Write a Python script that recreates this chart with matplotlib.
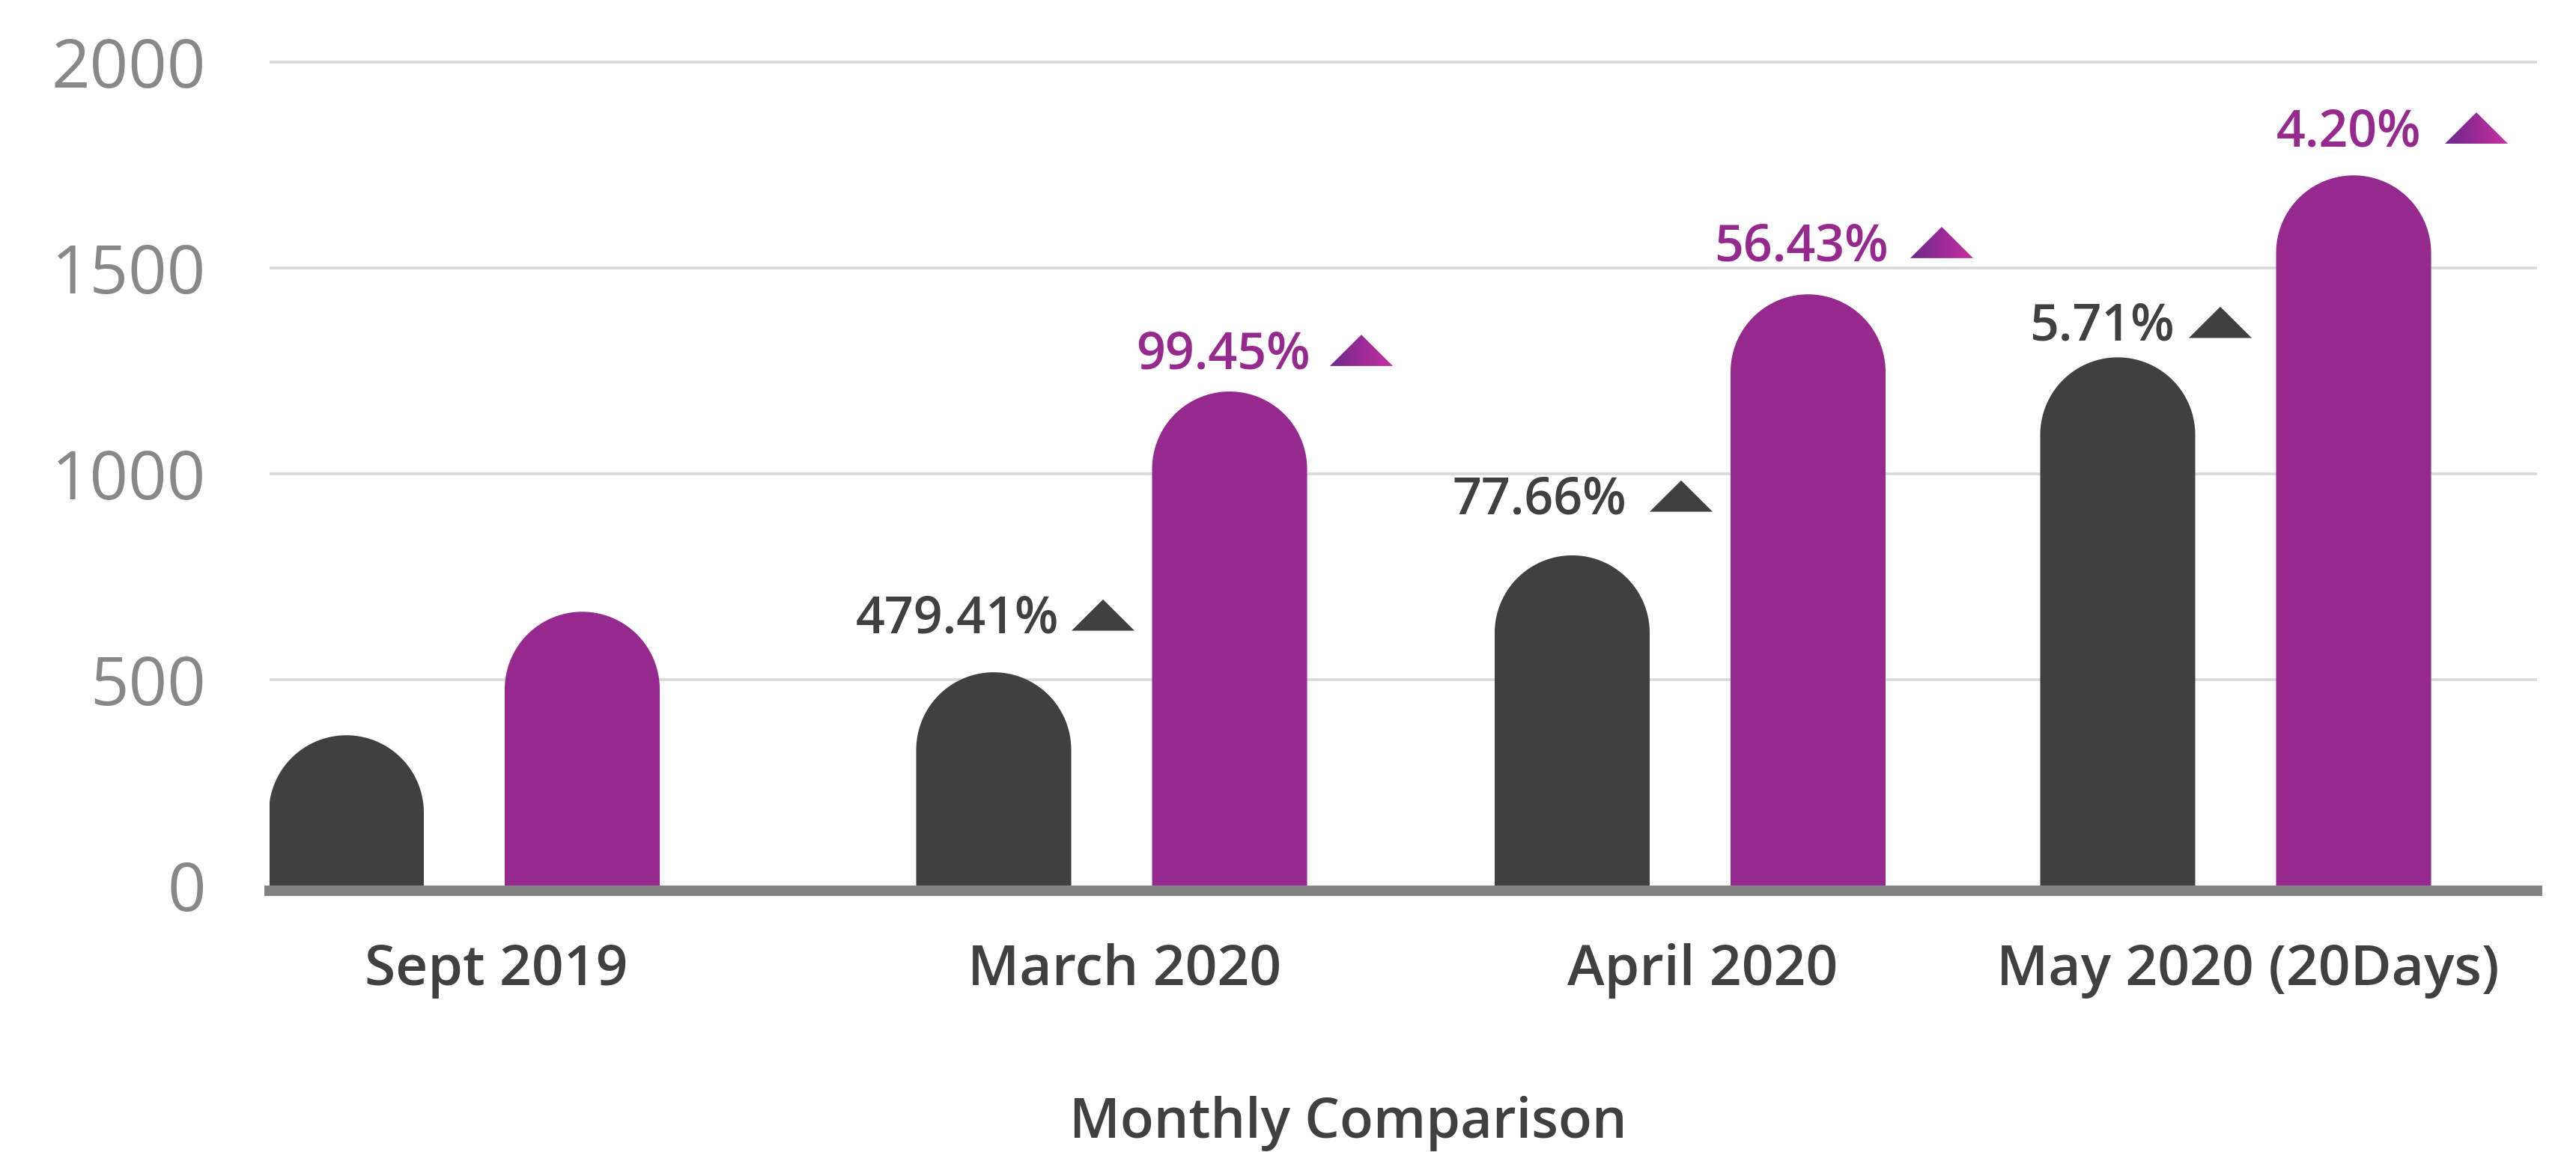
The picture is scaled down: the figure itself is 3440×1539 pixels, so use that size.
import matplotlib
matplotlib.use("Agg")
import matplotlib.pyplot as plt
import numpy as np
from matplotlib.path import Path
from matplotlib.patches import PathPatch, Polygon
from matplotlib.colors import LinearSegmentedColormap

# ---------------- data ----------------
categories = ["Sept 2019", "March 2020", "April 2020", "May 2020 (20Days)"]
dark_values = [365, 518, 802, 1283]
purple_values = [665, 1200, 1436, 1725]
dark_growth = [None, "479.41%", "77.66%", "5.71%"]
purple_growth = [None, "99.45%", "56.43%", "4.20%"]
y_ticks = [0, 500, 1000, 1500, 2000]
x_title = "Monthly Comparison"

# ---------------- layout / style ----------------
DARK = "#404040"
PURPLE = "#96298D"
GRID = "#d9d9d9"
AXIS = "#828282"
TICK = "#888888"
FONT = ["Open Sans", "DejaVu Sans"]

group_x = [6.20, 14.845, 22.57, 29.855]
bar_offset = 1.575
bar_width = 2.07
label_x = [6.63, 15.015, 22.74, 30.02]
# (text right edge x, baseline y, triangle left x)
dark_label_pos = [None, (14.14, 613, 14.31), (21.72, 902, 22.03), (29.04, 1324, 29.23)]
purple_label_pos = [None, (17.50, 1256, 17.76), (25.22, 1518, 25.51), (32.33, 1796, 32.65)]
tri_w, tri_h = 0.84, 76

fig = plt.figure(figsize=(34.4, 15.39), dpi=100)
ax = fig.add_axes([360 / 3440, 1 - 1183 / 1539, (3388 - 360) / 3440, 1183 / 1539])
ax.set_xlim(3.60, 33.88)
ax.set_ylim(0, 2151)
ax.set_autoscale_on(False)
for s in ax.spines.values():
    s.set_visible(False)

# grid
for t in y_ticks[1:]:
    ax.axhline(t, color=GRID, lw=2.6, zorder=0)

# px per data unit
p0 = ax.transData.transform((0, 0))
px_x = ax.transData.transform((1, 0))[0] - p0[0]
px_y = ax.transData.transform((0, 1))[1] - p0[1]


def rounded_bar(xc, h, color):
    rx = bar_width / 2
    ry = rx * px_x / px_y
    x0, x1 = xc - rx, xc + rx
    t = np.linspace(np.pi, 0, 60)
    yc = max(h - ry, 0)
    verts = [(x0, 0), (x0, yc)]
    verts += list(zip(xc + rx * np.cos(t), yc + ry * np.sin(t)))
    verts += [(x1, 0), (x0, 0)]
    codes = [Path.MOVETO] + [Path.LINETO] * (len(verts) - 2) + [Path.CLOSEPOLY]
    ax.add_patch(PathPatch(Path(verts, codes), facecolor=color, edgecolor="none", zorder=2))


for i in range(len(categories)):
    rounded_bar(group_x[i] - bar_offset, dark_values[i], DARK)
    rounded_bar(group_x[i] + bar_offset, purple_values[i], PURPLE)

# baseline axis line
ax.axhline(-12.7, color=AXIS, lw=10, zorder=3, clip_on=False)

grad_cmap = LinearSegmentedColormap.from_list("g", ["#6C2A8C", "#9A2A96", "#C8319F"])


def triangle(xl, yb, color, gradient=False):
    pts = [(xl, yb), (xl + tri_w, yb), (xl + tri_w / 2, yb + tri_h)]
    if gradient:
        poly = Polygon(pts, closed=True, facecolor="none", edgecolor="none")
        ax.add_patch(poly)
        g = np.linspace(0, 1, 256).reshape(1, -1)
        im = ax.imshow(g, cmap=grad_cmap, extent=(xl, xl + tri_w, yb, yb + tri_h),
                       aspect="auto", zorder=4, interpolation="bilinear")
        im.set_clip_path(poly)
    else:
        ax.add_patch(Polygon(pts, closed=True, facecolor=color, edgecolor="none", zorder=4))


for lab, pos, col, grad in [(dark_growth, dark_label_pos, DARK, False),
                            (purple_growth, purple_label_pos, PURPLE, True)]:
    for txt, p in zip(lab, pos):
        if txt is None:
            continue
        xr, yb, xt = p
        ax.text(xr, yb, txt, ha="right", va="baseline", color=col, fontsize=49,
                fontweight="semibold", family=FONT, zorder=5)
        triangle(xt, yb + 6, col, grad)

ax.set_xlim(3.60, 33.88)
ax.set_ylim(0, 2151)

# y ticks
ax.set_yticks(y_ticks)
ax.set_yticklabels([str(v) for v in y_ticks], fontsize=65, color=TICK, family=FONT)
ax.tick_params(axis="y", length=0, pad=61)
ax.set_xticks([])

# category labels
for x, c in zip(label_x, categories):
    ax.text(x, -0.1124, c, transform=ax.get_xaxis_transform(), ha="center", va="baseline",
            fontsize=54, fontweight="semibold", color=DARK, family=FONT)

fig.text(1800 / 3440, 1 - 1520 / 1539, x_title, ha="center", va="baseline",
         fontsize=53, fontweight="semibold", color=DARK, family=FONT)

fig.savefig("out.png", dpi=100, facecolor="white")
